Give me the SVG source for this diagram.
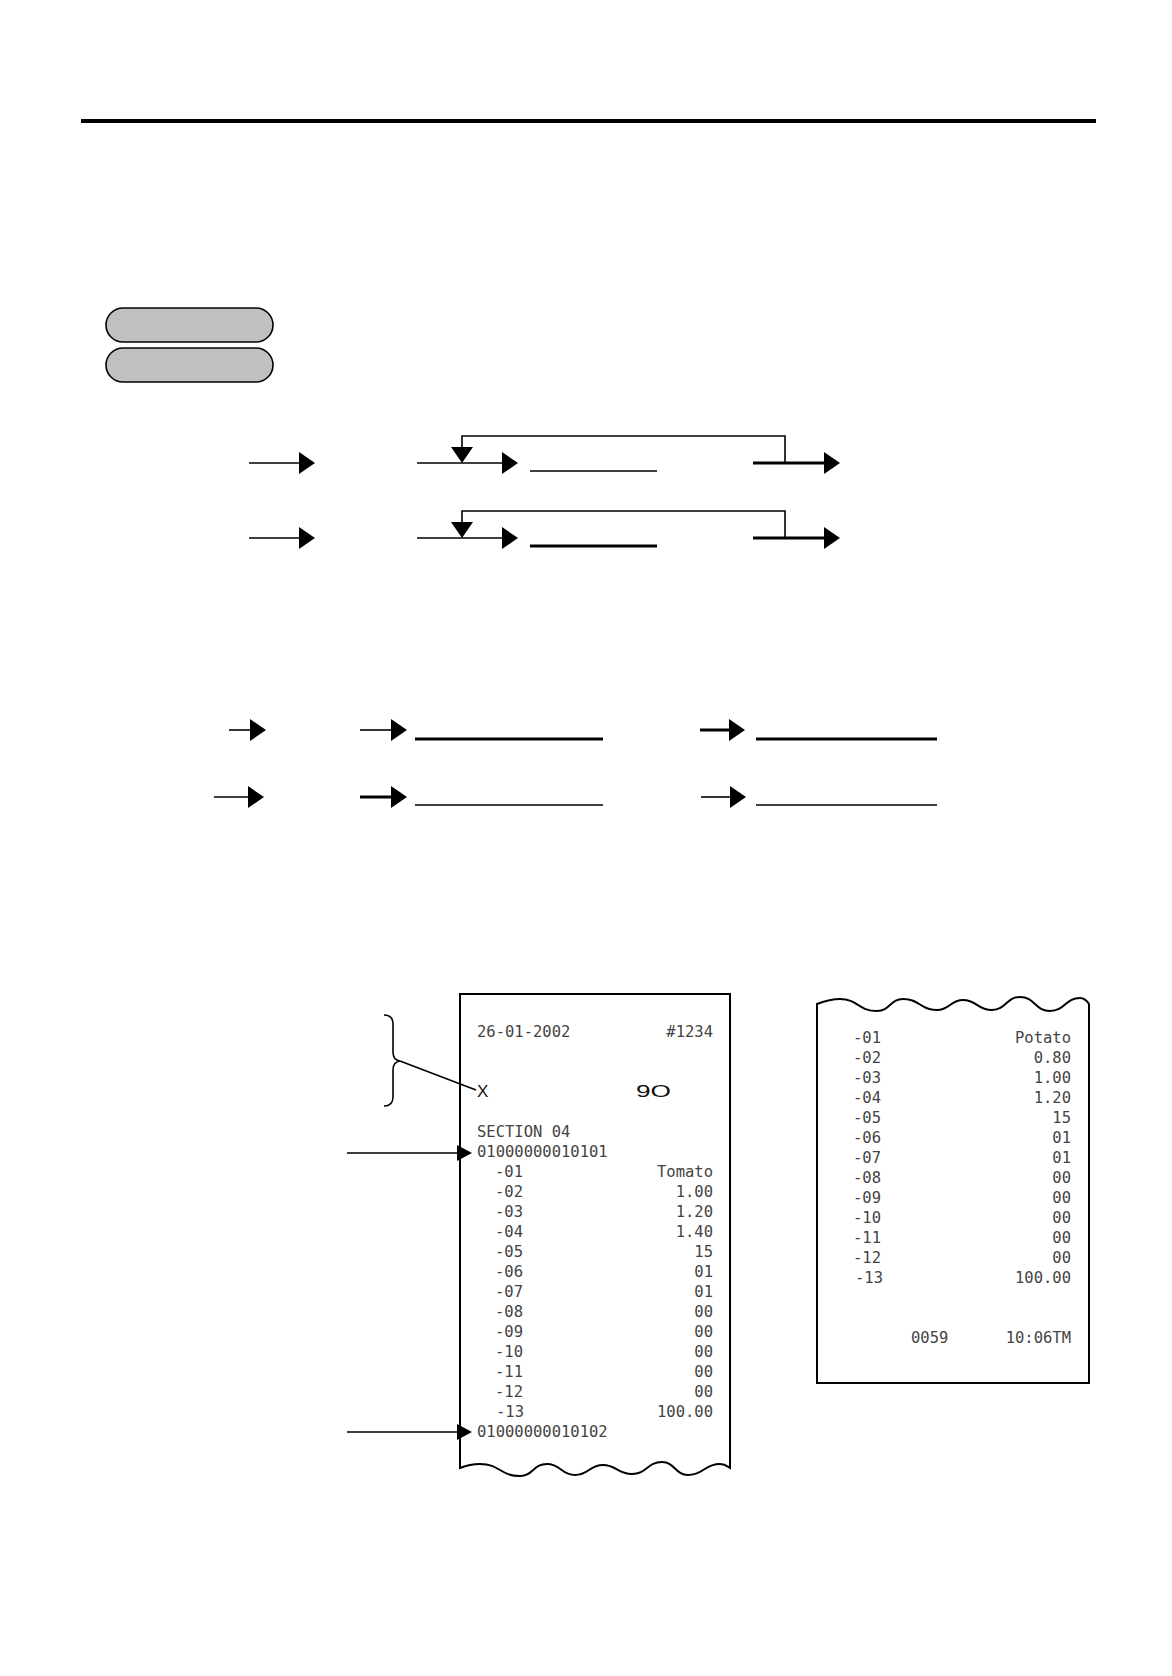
<svg xmlns="http://www.w3.org/2000/svg" width="1172" height="1676" viewBox="0 0 1172 1676">
<style>
.ln{stroke:#000;stroke-width:1.6;fill:none}
.thk{stroke:#000;stroke-width:3;fill:none}
.pill{fill:#c0c0c0;stroke:#000;stroke-width:1.6}
.paper{fill:#fff;stroke:#000;stroke-width:2}
.rc{font-family:"DejaVu Sans Mono","Liberation Mono",monospace;font-size:15.5px;fill:#444}
.r{text-anchor:end}
.big{font-family:"Liberation Sans",Arial,sans-serif;font-size:17px;fill:#111}
</style>
<defs>
<marker id="ah" markerUnits="userSpaceOnUse" markerWidth="16" markerHeight="22" viewBox="0 -11 16 22" refX="0" refY="0" orient="auto" overflow="visible">
<path d="M0,-11 L16,0 L0,11 z" fill="#000"/>
</marker>
<marker id="as" markerUnits="userSpaceOnUse" markerWidth="15" markerHeight="16" viewBox="0 -8 15 16" refX="0" refY="0" orient="auto" overflow="visible">
<path d="M0,-8 L15,0 L0,8 z" fill="#000"/>
</marker>
</defs>
<rect width="1172" height="1676" fill="#fff"/>
<g id="header-rule">
<line x1="81" y1="121" x2="1096" y2="121" stroke="#000" stroke-width="4"/>
</g>
<g id="pill-1"><rect class="pill" x="106" y="308" width="167" height="34" rx="17"/></g>
<g id="pill-2"><rect class="pill" x="106" y="348" width="167" height="34" rx="17"/></g>
<g id="receipt-1">
<path class="paper" d="M460,1468 L460,994 L730,994 L730,1468 C727,1466 725,1464 720,1464 C704,1464 704,1475 688,1475 C675,1475 675,1462 662,1462 C647,1462 647,1474 632,1474 C617,1474 617,1465 603,1465 C589,1465 589,1475 575,1475 C561,1475 561,1464 547,1464 C533,1464 533,1476 520,1476 C500,1476 500,1464 480,1464 C470,1464 465,1466 460,1468 Z"/>
<text class="rc" x="477" y="1037">26-01-2002</text>
<text class="rc r" x="713" y="1037">#1234</text>
<text class="big" x="477" y="1097">X</text>
<text class="big" x="636" y="1097" textLength="35" lengthAdjust="spacingAndGlyphs">9O</text>
<text class="rc" x="477" y="1137">SECTION 04</text>
<text class="rc" x="477" y="1157">01000000010101</text>
<text class="rc" x="495" y="1177">-01</text><text class="rc r" x="713" y="1177">Tomato</text>
<text class="rc" x="495" y="1197">-02</text><text class="rc r" x="713" y="1197">1.00</text>
<text class="rc" x="495" y="1217">-03</text><text class="rc r" x="713" y="1217">1.20</text>
<text class="rc" x="495" y="1237">-04</text><text class="rc r" x="713" y="1237">1.40</text>
<text class="rc" x="495" y="1257">-05</text><text class="rc r" x="713" y="1257">15</text>
<text class="rc" x="495" y="1277">-06</text><text class="rc r" x="713" y="1277">01</text>
<text class="rc" x="495" y="1297">-07</text><text class="rc r" x="713" y="1297">01</text>
<text class="rc" x="495" y="1317">-08</text><text class="rc r" x="713" y="1317">00</text>
<text class="rc" x="495" y="1337">-09</text><text class="rc r" x="713" y="1337">00</text>
<text class="rc" x="495" y="1357">-10</text><text class="rc r" x="713" y="1357">00</text>
<text class="rc" x="495" y="1377">-11</text><text class="rc r" x="713" y="1377">00</text>
<text class="rc" x="495" y="1397">-12</text><text class="rc r" x="713" y="1397">00</text>
<text class="rc" x="496" y="1417">-13</text><text class="rc r" x="713" y="1417">100.00</text>
<text class="rc" x="477" y="1437">01000000010102</text>
</g>
<g id="receipt-2">
<path class="paper" d="M817,1004 C825,1001 832,999 840,999 C858,999 858,1011 877,1011 C890,1011 890,999 903,999 C920,999 920,1010 937,1010 C950,1010 950,1000 963,1000 C977,1000 977,1010 992,1010 C1006,1010 1006,997 1020,997 C1035,997 1035,1011 1050,1011 C1065,1011 1065,998 1080,998 C1084,998 1087,1001 1089,1004 L1089,1383 L817,1383 Z"/>
<text class="rc" x="853" y="1043">-01</text><text class="rc r" x="1071" y="1043">Potato</text>
<text class="rc" x="853" y="1063">-02</text><text class="rc r" x="1071" y="1063">0.80</text>
<text class="rc" x="853" y="1083">-03</text><text class="rc r" x="1071" y="1083">1.00</text>
<text class="rc" x="853" y="1103">-04</text><text class="rc r" x="1071" y="1103">1.20</text>
<text class="rc" x="853" y="1123">-05</text><text class="rc r" x="1071" y="1123">15</text>
<text class="rc" x="853" y="1143">-06</text><text class="rc r" x="1071" y="1143">01</text>
<text class="rc" x="853" y="1163">-07</text><text class="rc r" x="1071" y="1163">01</text>
<text class="rc" x="853" y="1183">-08</text><text class="rc r" x="1071" y="1183">00</text>
<text class="rc" x="853" y="1203">-09</text><text class="rc r" x="1071" y="1203">00</text>
<text class="rc" x="853" y="1223">-10</text><text class="rc r" x="1071" y="1223">00</text>
<text class="rc" x="853" y="1243">-11</text><text class="rc r" x="1071" y="1243">00</text>
<text class="rc" x="853" y="1263">-12</text><text class="rc r" x="1071" y="1263">00</text>
<text class="rc" x="855" y="1283">-13</text><text class="rc r" x="1071" y="1283">100.00</text>
<text class="rc" x="911" y="1343">0059</text><text class="rc r" x="1071" y="1343">10:06TM</text>
</g>
<g id="connectors">
<line class="ln" x1="249" y1="463" x2="299" y2="463" marker-end="url(#ah)"/>
<line class="ln" x1="417" y1="463" x2="502" y2="463" marker-end="url(#ah)"/>
<path class="ln" d="M785,463 L785,436 L462,436 L462,447" marker-end="url(#ah)"/>
<line class="ln" x1="530" y1="471" x2="657" y2="471"/>
<line class="thk" x1="753" y1="463" x2="824" y2="463" marker-end="url(#ah)"/>
<line class="ln" x1="249" y1="538" x2="299" y2="538" marker-end="url(#ah)"/>
<line class="ln" x1="417" y1="538" x2="502" y2="538" marker-end="url(#ah)"/>
<path class="ln" d="M785,538 L785,511 L462,511 L462,522" marker-end="url(#ah)"/>
<line class="thk" x1="530" y1="546" x2="657" y2="546"/>
<line class="thk" x1="753" y1="538" x2="824" y2="538" marker-end="url(#ah)"/>
<line class="ln" x1="229" y1="730" x2="250" y2="730" marker-end="url(#ah)"/>
<line class="ln" x1="360" y1="730" x2="391" y2="730" marker-end="url(#ah)"/>
<line class="thk" x1="415" y1="739" x2="603" y2="739"/>
<line class="thk" x1="700" y1="730" x2="729" y2="730" marker-end="url(#ah)"/>
<line class="thk" x1="756" y1="739" x2="937" y2="739"/>
<line class="ln" x1="214" y1="797" x2="248" y2="797" marker-end="url(#ah)"/>
<line class="thk" x1="360" y1="797" x2="391" y2="797" marker-end="url(#ah)"/>
<line class="ln" x1="415" y1="805" x2="603" y2="805"/>
<line class="ln" x1="701" y1="797" x2="730" y2="797" marker-end="url(#ah)"/>
<line class="ln" x1="756" y1="805" x2="937" y2="805"/>
<line class="ln" x1="347" y1="1153" x2="457" y2="1153" marker-end="url(#as)"/>
<line class="ln" x1="347" y1="1432" x2="457" y2="1432" marker-end="url(#as)"/>
<path class="ln" d="M384,1015 Q393,1015 393,1024 L393,1052 Q393,1060 400,1061 Q393,1062 393,1070 L393,1097 Q393,1106 384,1106"/>
<line class="ln" x1="400" y1="1061" x2="476" y2="1090"/>
</g>
</svg>
